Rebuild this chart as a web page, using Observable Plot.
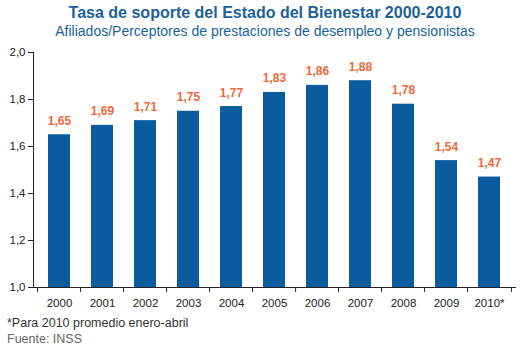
<!DOCTYPE html>
<html>
<head>
<meta charset="utf-8">
<script src="https://cdn.jsdelivr.net/npm/d3@7"></script>
<script src="https://cdn.jsdelivr.net/npm/@observablehq/plot@0.6"></script>
<style>
  body { margin: 0; background: #fff; font-family: "Liberation Sans", Arial, sans-serif; width: 530px; }
  .title { text-align: center; color: #1d5f9c; font-weight: bold; font-size: 16px; line-height: 18px; padding-top: 4px; }
  .subtitle { text-align: center; color: #1d5f9c; font-size: 14px; line-height: 19px; }
  .note { font-size: 12.5px; line-height: 16px; padding-left: 7px; }
  #chart svg { display: block; }
</style>
</head>
<body>
<div class="title">Tasa de soporte del Estado del Bienestar 2000-2010</div>
<div class="subtitle">Afiliados/Perceptores de prestaciones de desempleo y pensionistas</div>
<div id="chart"></div>
<div class="note" style="color:#333; margin-top:3px;">*Para 2010 promedio enero-abril</div>
<div class="note" style="color:#666;">Fuente: INSS</div>
<script>
const years = ["2000","2001","2002","2003","2004","2005","2006","2007","2008","2009","2010*"];
const values = [1.65, 1.69, 1.71, 1.75, 1.77, 1.83, 1.86, 1.88, 1.78, 1.54, 1.47];
const yTicks = [1.0, 1.2, 1.4, 1.6, 1.8, 2.0];

const data = years.map((year, i) => ({year, value: values[i]}));
const comma = (v, d) => v.toFixed(d).replace(".", ",");

const W = 530, H = 271, ML = 33, MR = 15, MT = 11, MB = 25;
const step = (W - ML - MR) / years.length;

const chart = Plot.plot({
  width: W, height: H,
  marginLeft: ML, marginRight: MR, marginTop: MT, marginBottom: MB,
  style: {fontFamily: "Liberation Sans, Arial, sans-serif", fontSize: "11.5px", color: "#222", background: "#fff"},
  x: {domain: years, paddingInner: 0.48, paddingOuter: 0.24, label: null, tickSize: 0, tickPadding: 11, line: true},
  y: {domain: [1, 2], ticks: yTicks, tickFormat: d => comma(d, 1), label: null, tickSize: 5, tickPadding: 3, line: true},
  marks: [
    Plot.barY(data, {x: "year", y1: 1, y2: "value", fill: "#0b5c9e"}),
    Plot.text(data, {x: "year", y: "value", text: d => comma(d.value, 2), dy: -10, lineAnchor: "bottom", fill: "#f0683a", fontWeight: "bold", fontSize: 12}),
    Plot.ruleX(years, {x: d => d, y1: 1, y2: 1, dx: -step / 2, insetBottom: -5, stroke: "#222"}),
    Plot.ruleX(years.slice(-1), {x: d => d, y1: 1, y2: 1, dx: step / 2, insetBottom: -5, stroke: "#222"})
  ]
});
document.getElementById("chart").appendChild(chart);
</script>
</body>
</html>
